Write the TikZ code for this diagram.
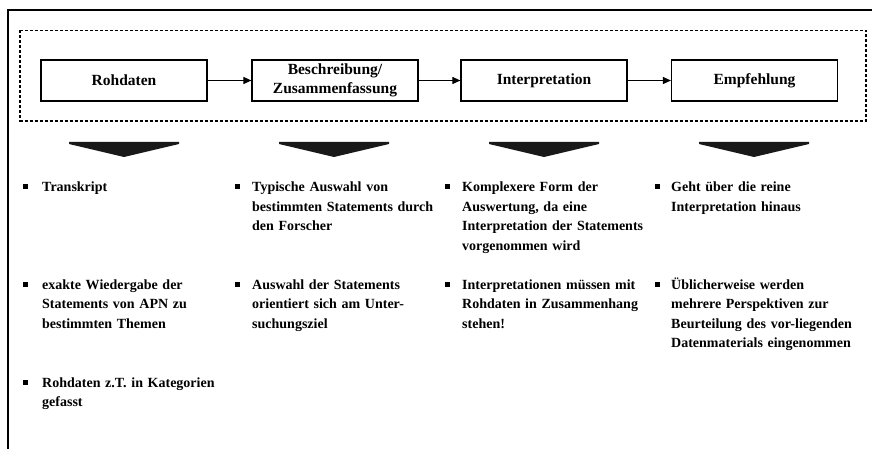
\documentclass[tikz,border=0pt]{standalone}
\usepackage{fontspec}
\setmainfont{Liberation Serif}
\usetikzlibrary{arrows.meta}
\begin{document}
\begin{tikzpicture}[x=1pt,y=-1pt,
  stage/.style={draw=black,line width=1.2pt,minimum width=166pt,minimum height=41pt,inner sep=0pt,
    align=center,font=\fontsize{15.5}{19}\selectfont\bfseries},
  flow/.style={line width=1.1pt,-{Triangle[length=8pt,width=7pt]}},
  item/.style={anchor=base west,inner sep=0pt,text width=200pt,align=left,
    font=\fontsize{14}{19.5}\selectfont\bfseries},
  bul/.style={fill=black,minimum size=5pt,inner sep=0pt},
  down/.style={fill=black!90}
]
\useasboundingbox (0,0) rectangle (872,449);
% outer frame (top and left only)
\draw[line width=1.5pt] (8,449) -- (8,10) -- (872,10);
% dashed frame
\draw[line width=1.2pt,dash pattern=on 3pt off 2pt] (20,30.5) rectangle (866,121);
% stages
\node[stage] (s1) at (124,80.5) {Rohdaten};
\node[stage] (s2) at (335,80.5) {Beschreibung/\\Zusammenfassung};
\node[stage] (s3) at (544,80.5) {Interpretation};
\node[stage] (s4) at (754.5,80.5) {Empfehlung};
\draw[flow] (s1) -- (s2);
\draw[flow] (s2) -- (s3);
\draw[flow] (s3) -- (s4);
% down arrows
\foreach \c in {124,334,544,754}{
  \fill[down] (\c-55,142) -- (\c+55,142) -- (\c+55,144) -- (\c,157) -- (\c-55,144) -- cycle;
}
% column 1
\node[bul] (b11) at (25,187) {};
\node[item] (t11) at (42,192) {Transkript};
\node[bul] (b12) at (25,284) {};
\node[item] (t12) at (42,289) {exakte Wiedergabe der\\Statements von APN zu\\bestimmten Themen};
\node[bul] (b13) at (25,382) {};
\node[item] (t13) at (42,387) {Rohdaten z.T. in Kategorien\\gefasst};
% column 2
\node[bul] (b21) at (237,187) {};
\node[item] (t21) at (252,192) {Typische Auswahl von\\bestimmten Statements durch\\den Forscher};
\node[bul] (b22) at (237,284) {};
\node[item] (t22) at (252,289) {Auswahl der Statements\\orientiert sich am Unter-\\suchungsziel};
% column 3
\node[bul] (b31) at (447,187) {};
\node[item] (t31) at (462,192) {Komplexere Form der\\Auswertung, da eine\\Interpretation der Statements\\vorgenommen wird};
\node[bul] (b32) at (447,284) {};
\node[item] (t32) at (462,289) {Interpretationen müssen mit\\Rohdaten in Zusammenhang\\stehen!};
% column 4
\node[bul] (b41) at (657,187) {};
\node[item] (t41) at (671,192) {Geht über die reine\\Interpretation hinaus};
\node[bul] (b42) at (657,284) {};
\node[item] (t42) at (671,289) {Üblicherweise werden\\mehrere Perspektiven zur\\Beurteilung des vor-liegenden\\Datenmaterials eingenommen};
\end{tikzpicture}
\end{document}
